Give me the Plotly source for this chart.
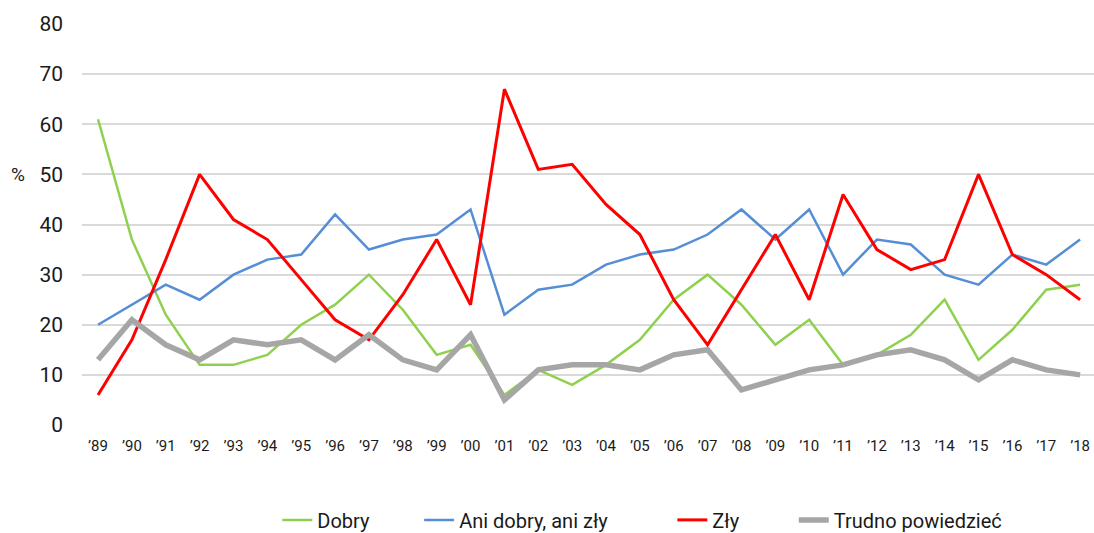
import plotly.graph_objects as go

years = ["’89", "’90", "’91", "’92", "’93", "’94", "’95", "’96", "’97", "’98", "’99", "’00",
         "’01", "’02", "’03", "’04", "’05", "’06", "’07", "’08", "’09", "’10", "’11", "’12",
         "’13", "’14", "’15", "’16", "’17", "’18"]
dobry = [61, 37, 22, 12, 12, 14, 20, 24, 30, 23, 14, 16, 6, 11, 8, 12, 17, 25, 30, 24, 16, 21, 12, 14, 18, 25, 13, 19, 27, 28]
ani = [20, 24, 28, 25, 30, 33, 34, 42, 35, 37, 38, 43, 22, 27, 28, 32, 34, 35, 38, 43, 37, 43, 30, 37, 36, 30, 28, 34, 32, 37]
zly = [6, 17, 33, 50, 41, 37, 29, 21, 17, 26, 37, 24, 67, 51, 52, 44, 38, 25, 16, 27, 38, 25, 46, 35, 31, 33, 50, 34, 30, 25]
trudno = [13, 21, 16, 13, 17, 16, 17, 13, 18, 13, 11, 18, 5, 11, 12, 12, 11, 14, 15, 7, 9, 11, 12, 14, 15, 13, 9, 13, 11, 10]

xi = list(range(len(years)))
nb = "\u00a0"

fig = go.Figure()
fig.add_trace(go.Scatter(x=xi, y=dobry, name="Dobry" + nb * 9, mode="lines",
                         line=dict(color="#8FD14F", width=2.5)))
fig.add_trace(go.Scatter(x=xi, y=ani, name="Ani dobry, ani zły" + nb * 12, mode="lines",
                         line=dict(color="#558ED5", width=2.5)))
fig.add_trace(go.Scatter(x=xi, y=zly, name="Zły" + nb * 10, mode="lines",
                         line=dict(color="#FF0000", width=3)))
fig.add_trace(go.Scatter(x=xi, y=trudno, name="Trudno powiedzieć", mode="lines",
                         line=dict(color="#A6A6A6", width=5.5)))

fig.update_layout(
    width=1094, height=533,
    margin=dict(l=82, r=0, t=24, b=108, autoexpand=False),
    paper_bgcolor="white", plot_bgcolor="white",
    font=dict(family="Roboto", color="#1a1a1a"),
    showlegend=True,
    legend=dict(orientation="h", x=0.193, xanchor="left", y=-0.188, yanchor="top",
                font=dict(size=20, color="#1a1a1a"), itemwidth=30, tracegroupgap=0),
    xaxis=dict(tickmode="array", tickvals=xi, ticktext=years, range=[-0.473, 29.41],
               showgrid=False, zeroline=False, showline=False, ticks="",
               automargin=False, ticklabelstandoff=10,
               tickfont=dict(size=15, color="#1a1a1a")),
    yaxis=dict(range=[0, 80], dtick=10, showgrid=True, gridcolor="#D9D9D9", gridwidth=1.5,
               zeroline=False, showline=False, ticks="", ticklabelstandoff=18,
               automargin=False, tickfont=dict(size=21, color="#1a1a1a")),
)
fig.add_annotation(text="%", xref="paper", yref="y", x=-0.063, y=50, xanchor="center",
                   yanchor="middle", showarrow=False, font=dict(size=19, color="#1a1a1a"))

fig.write_html("out.html", config={"displayModeBar": False},
               post_script="document.body.style.margin='0';document.body.style.overflow='hidden';")
